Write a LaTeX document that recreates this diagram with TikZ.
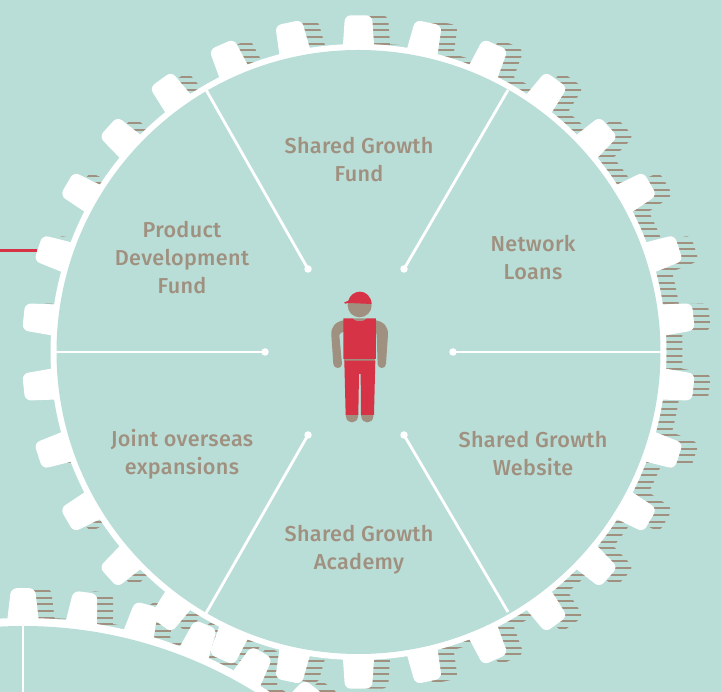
\documentclass[tikz,border=0pt]{standalone}
\usepackage{fontspec}
\setmainfont{Fira Sans Medium}
\definecolor{bgteal}{HTML}{B9DED7}
\definecolor{tan}{HTML}{A09080}
\definecolor{redc}{HTML}{D73346}
\newcommand{\teeth}[8]{% cx, cy, Rb, Rt, db, dt, first, second
  \foreach \a in {#7,#8,...,369.9}{
    ([shift={(#1,#2)}]\a-#5:#3) -- ([shift={(#1,#2)}]\a-#6:#4) -- ([shift={(#1,#2)}]\a+#6:#4) -- ([shift={(#1,#2)}]\a+#5:#3) -- cycle
  }}
\tikzset{
  toothy/.style={rounded corners=6pt},
  hatch/.style={draw=tan,line width=2pt},
  spoke/.style={draw=white,line width=2.8pt},
  dot/.style={circle,fill=white,inner sep=0pt,minimum size=7.5pt},
  label/.style={text=tan,align=center,font=\fontsize{21.6}{28}\selectfont\addfontfeatures{LetterSpace=1.5}},
  fig/.style={x=0.3333pt,y=-0.3333pt,shift={(280pt,422pt)}}
}
\begin{document}
\begin{tikzpicture}[x=1pt,y=1pt]
\useasboundingbox (0,0) rectangle (721,692);
\fill[bgteal] (0,0) rectangle (721,692);
\begin{scope}
\clip (0,0) rectangle (721,692);
% second gear shadow
\begin{scope}
  \clip[toothy] \teeth{39}{-374}{430}{478}{2.35}{1.44}{0}{7.5} (39,-374) circle[radius=448];
  \foreach \k in {0,...,17}{\pgfmathsetmacro{\yy}{692-(591+6.64*\k)}
    \draw[hatch] (0,\yy) -- (721,\yy);}
\end{scope}
% main gear shadow
\begin{scope}
  \clip[toothy] \teeth{374.5}{340}{292}{337}{3.26}{2.3}{6}{18} (374.5,340) circle[radius=308];
  \foreach \k in {0,...,103}{\pgfmathsetmacro{\yy}{692-(17+6.64*\k)}
    \draw[hatch] (0,\yy) -- (721,\yy);}
\end{scope}
% white gears
\fill[white,toothy] \teeth{23}{-374}{430}{478}{2.35}{1.44}{0}{7.5};
\fill[white] (23,-374) circle[radius=448];
\fill[white,toothy] \teeth{358.5}{340}{292}{337}{3.26}{2.3}{6}{18};
\fill[white] (358.5,340) circle[radius=308];
\fill[bgteal] (23,-374) circle[radius=440];
\fill[bgteal] (358.5,340) circle[radius=302];
\end{scope}
% red connector
\coordinate (redstart) at (0,441);
\coordinate (redend) at (37,441);
\draw[redc,line width=3pt] (redstart) -- (redend);
% second gear spoke
\coordinate (s2a) at (23,66);
\coordinate (s2b) at (23,0);
\draw[spoke] (s2a) -- (s2b);
% spokes
\foreach \n/\dx/\dy/\rx/\ry in {1/404/423/508/602,2/308/423/205/604,3/265/340/56/340,4/308/257/205/77,5/404/257/508/80,6/453/340/662/340}{
  \node[dot] (d\n) at (\dx,\dy) {};
  \coordinate (r\n) at (\rx,\ry);
  \draw[spoke] (d\n.center) -- (r\n);
}
% labels
\node[label] (l1) at (359,532) {Shared Growth\\Fund};
\node[label] (l2) at (533,434) {Network\\Loans};
\node[label] (l3) at (533,238) {Shared Growth\\Website};
\node[label] (l4) at (359,142) {Shared Growth\\Academy};
\node[label] (l5) at (182,238) {Joint overseas\\expansions};
\node[label] (l6) at (182,434) {Product\\Development\\Fund};
% figure
\begin{scope}[fig]
  % arms
  \fill[tan] (195,150) .. controls (165,155) and (153,170) .. (154,195) -- (160,282)
     .. controls (161,298) and (185,298) .. (186,282) -- (178,195) .. controls (178,190) and (185,187) .. (195,185) -- cycle;
  \fill[tan] (283,150) .. controls (313,155) and (325,170) .. (324,195) -- (318,282)
     .. controls (317,298) and (294,298) .. (293,282) -- (290,195) .. controls (290,190) and (288,187) .. (283,185) -- cycle;
  % head
  \fill[tan] (239,106) circle[x radius=36,y radius=36];
  % cap
  \fill[redc] (192,98) -- (205,92) .. controls (210,75) and (225,65) .. (240,65) .. controls (258,65) and (274,80) .. (275,102) -- (205,99) -- (196,101) -- cycle;
  % torso
  \fill[redc] (190,145) -- (218,145) .. controls (222,155) and (256,155) .. (260,145) -- (288,145) -- (288,267) -- (190,267) -- cycle;
  \fill[tan] (218,145) .. controls (222,155) and (256,155) .. (260,145) -- cycle;
  \fill[tan] (193,267) rectangle (286,272);
  % feet
  \fill[tan] (197,430) -- (235,430) -- (234,440) .. controls (232,463) and (200,463) .. (198,440) -- cycle;
  \fill[tan] (243,430) -- (281,430) -- (280,440) .. controls (278,463) and (246,463) .. (244,440) -- cycle;
  % legs
  \fill[redc] (193,272) -- (286,272) -- (282,435) -- (243,435) -- (242,312) -- (237,312) -- (235,435) -- (197,435) -- cycle;
\end{scope}
\end{tikzpicture}
\end{document}
